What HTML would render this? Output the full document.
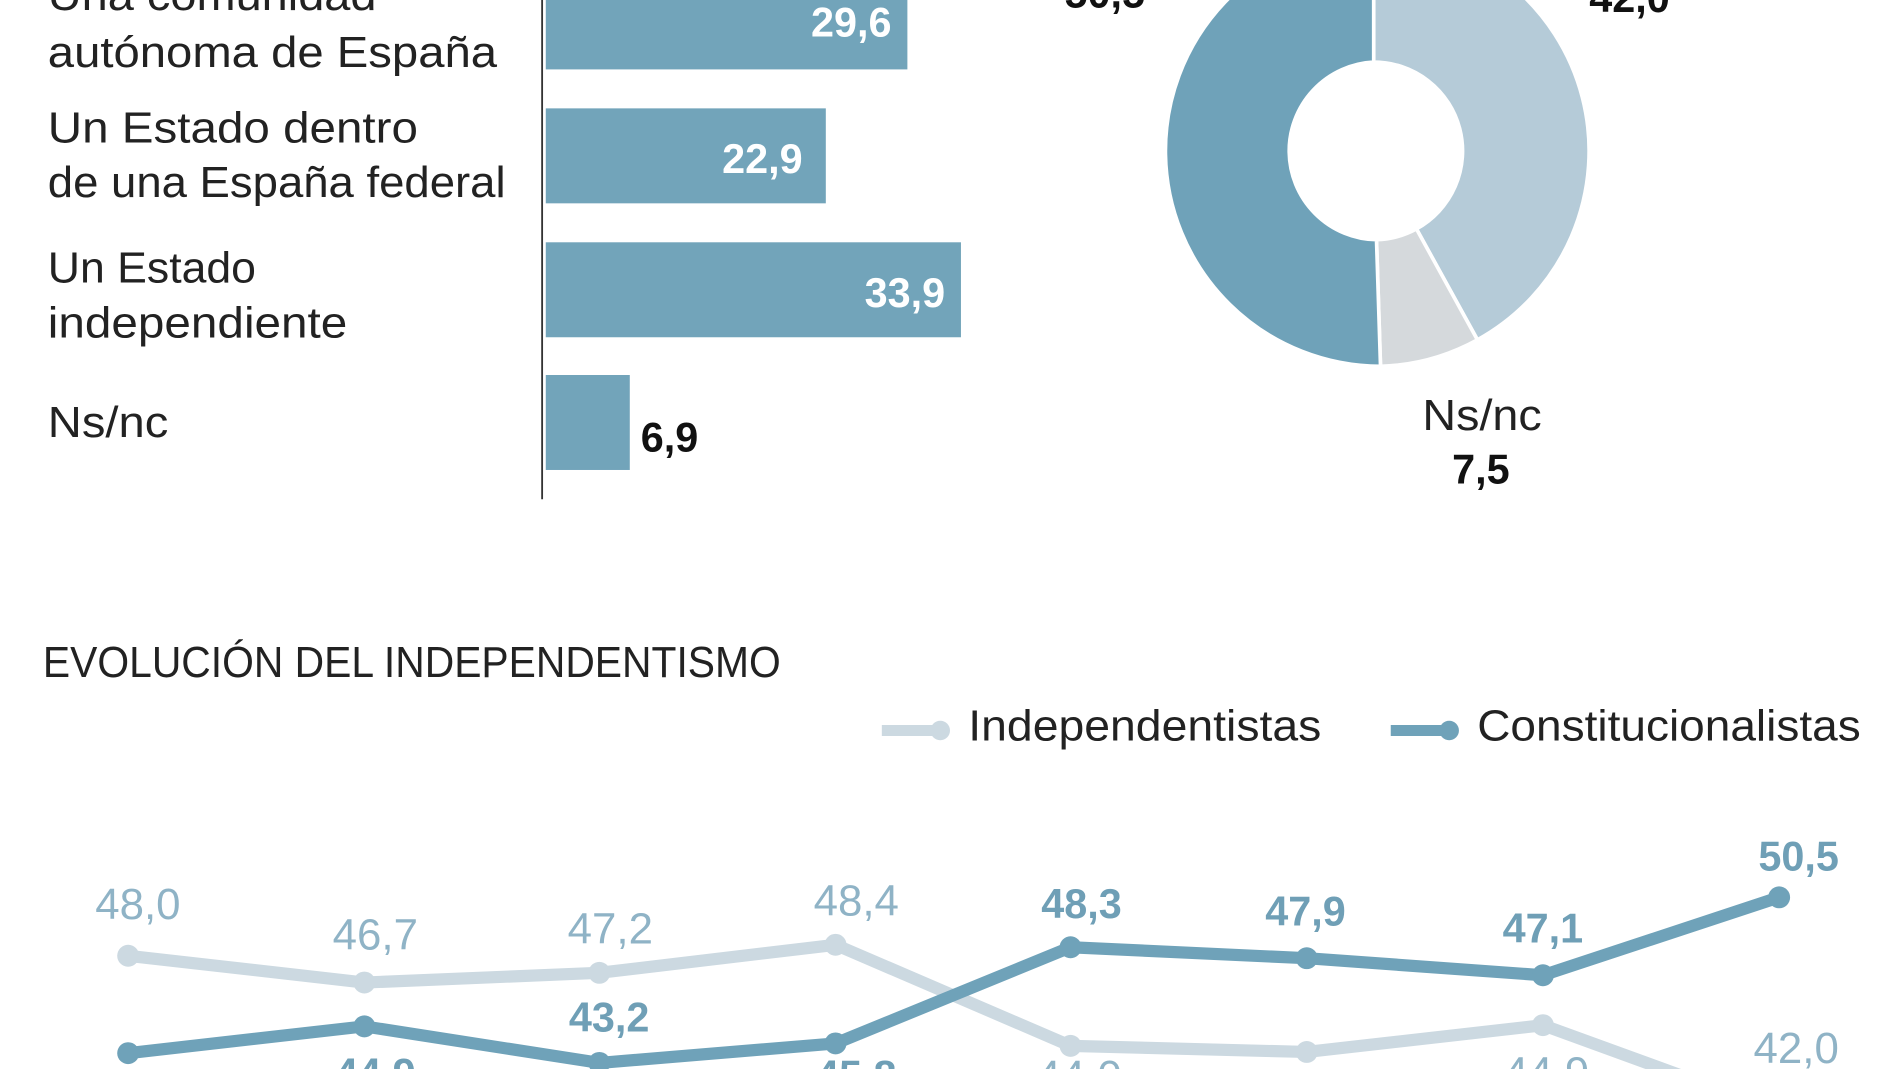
<!DOCTYPE html>
<html><head><meta charset="utf-8"><style>
html,body{margin:0;padding:0;background:#fff;overflow:hidden}
svg{display:block}
text{font-family:"Liberation Sans Narrow","Liberation Sans",sans-serif}
</style></head><body>
<svg width="1900" height="1069" viewBox="0 0 1560 878" xmlns="http://www.w3.org/2000/svg">
<rect width="1560" height="878" fill="#fff"/>
<!-- bar chart -->
<g fill="#72a4ba">
<rect x="448" y="-21" width="297" height="78"/>
<rect x="448" y="89" width="230" height="78"/>
<rect x="448" y="199" width="341" height="78"/>
<rect x="448" y="308" width="69" height="78"/>
</g>
<line x1="445" y1="0" x2="445" y2="410" stroke="#333" stroke-width="1.5"/>
<g font-size="36" fill="#222">
<text x="39" y="8" textLength="270" lengthAdjust="spacingAndGlyphs">Una comunidad</text>
<text x="39" y="55" textLength="369" lengthAdjust="spacingAndGlyphs">autónoma  de España</text>
<text x="39" y="117" textLength="304" lengthAdjust="spacingAndGlyphs">Un Estado  dentro</text>
<text x="39" y="162" textLength="376" lengthAdjust="spacingAndGlyphs">de una España federal</text>
<text x="39" y="232" textLength="171" lengthAdjust="spacingAndGlyphs">Un Estado</text>
<text x="39" y="277" textLength="246" lengthAdjust="spacingAndGlyphs">independiente</text>
<text x="39" y="359" textLength="99" lengthAdjust="spacingAndGlyphs">Ns/nc</text>
</g>
<g font-size="34" font-weight="bold" fill="#fff" text-anchor="end">
<text x="732" y="30">29,6</text>
<text x="659" y="142">22,9</text>
<text x="776" y="252">33,9</text>
</g>
<text x="526" y="371" font-size="34" font-weight="bold" fill="#111">6,9</text>
<!-- donut -->
<g stroke="#fff" stroke-width="3">
<path d="M1128,-53 A177,177 0 0 1 1213.2,279.1 L1163.1,188.0 A73,73 0 0 0 1128,51 Z" fill="#b5cbd8"/>
<path d="M1213.2,279.1 A177,177 0 0 1 1133.6,300.9 L1130.3,196.9 A73,73 0 0 0 1163.1,188.0 Z" fill="#d5d9dc"/>
<path d="M1133.6,300.9 A177,177 0 0 1 1128,-53 L1128,51 A73,73 0 0 0 1130.3,196.9 Z" fill="#6fa2b9"/>
</g>
<g font-size="34" font-weight="bold" fill="#111">
<text x="874" y="6">50,5</text>
<text x="1305" y="10">42,0</text>
<text x="1216" y="397" text-anchor="middle">7,5</text>
</g>
<text x="1217" y="353" font-size="36" fill="#222" text-anchor="middle" textLength="98" lengthAdjust="spacingAndGlyphs">Ns/nc</text>
<!-- line chart -->
<text x="35" y="556" font-size="36" fill="#222" textLength="606" lengthAdjust="spacingAndGlyphs">EVOLUCIÓN DEL INDEPENDENTISMO</text>
<line x1="724" y1="600" x2="772" y2="600" stroke="#ccd9e1" stroke-width="9"/>
<circle cx="772" cy="600" r="8" fill="#ccd9e1"/>
<text x="795" y="608" font-size="36" fill="#222" textLength="290" lengthAdjust="spacingAndGlyphs">Independentistas</text>
<line x1="1142" y1="600" x2="1190" y2="600" stroke="#6fa2b9" stroke-width="9"/>
<circle cx="1190" cy="600" r="8" fill="#6fa2b9"/>
<text x="1213" y="608" font-size="36" fill="#222" textLength="315" lengthAdjust="spacingAndGlyphs">Constitucionalistas</text>
<g fill="none" stroke-width="10" stroke-linejoin="round">
<polyline stroke="#ccd9e1" points="105,785 299,807 492,799 686,776 879,859 1073,864 1267,842 1440,905"/>
<polyline stroke="#6fa2b9" points="105,865 299,843 492,873 686,857 879,778 1073,787 1267,801 1461,737"/>
</g>
<g fill="#ccd9e1">
<circle cx="105" cy="785" r="9"/><circle cx="299" cy="807" r="9"/><circle cx="492" cy="799" r="9"/><circle cx="686" cy="776" r="9"/><circle cx="879" cy="859" r="9"/><circle cx="1073" cy="864" r="9"/><circle cx="1267" cy="842" r="9"/>
</g>
<g fill="#6fa2b9">
<circle cx="105" cy="865" r="9"/><circle cx="299" cy="843" r="9"/><circle cx="492" cy="873" r="9"/><circle cx="686" cy="857" r="9"/><circle cx="879" cy="778" r="9"/><circle cx="1073" cy="787" r="9"/><circle cx="1267" cy="801" r="9"/><circle cx="1461" cy="737" r="9"/>
</g>
<g font-size="36" fill="#8fb3c6" text-anchor="middle">
<text x="113" y="755">48,0</text>
<text x="308" y="780">46,7</text>
<text x="501" y="775">47,2</text>
<text x="703" y="752">48,4</text>
<text x="886" y="896">44,0</text>
<text x="1270" y="893">44,9</text>
<text x="1475" y="873">42,0</text>
</g>
<g font-size="34" font-weight="bold" fill="#6f9fb6" text-anchor="middle">
<text x="888" y="754">48,3</text>
<text x="1072" y="760">47,9</text>
<text x="1267" y="774">47,1</text>
<text x="1477" y="715">50,5</text>
<text x="500" y="847">43,2</text>
<text x="308" y="893">44,9</text>
<text x="703" y="895">45,8</text>
</g>
</svg>
</body></html>
